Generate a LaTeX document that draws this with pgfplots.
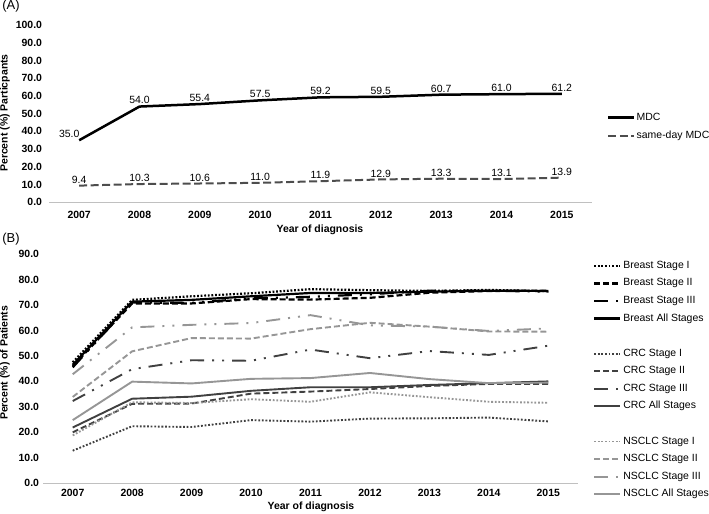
\documentclass[border=0pt]{standalone}
\usepackage{fontspec}
\setmainfont{Liberation Sans}
\usepackage{pgfplots}
\pgfplotsset{compat=1.18}
\usepackage{pgfplotstable}

\definecolor{crc}{HTML}{404040}
\definecolor{nsclc}{HTML}{969696}
\definecolor{sameday}{HTML}{4D4D4D}
\definecolor{axisgray}{HTML}{C0C0C0}

\pgfplotstableread{
year mdc sameday
0 35.0 9.4
1 54.0 10.3
2 55.4 10.6
3 57.5 11.0
4 59.2 11.9
5 59.5 12.9
6 60.7 13.3
7 61.0 13.1
8 61.2 13.9
}\tblA

\pgfplotstableread{
x bI bII bIII bAll cI cII cIII cAll nI nII nIII nAll
0 47.5 46.0 45.5 46.5 12.8 20.0 32.3 21.9 18.8 33.9 42.8 24.8
1 72.0 70.6 71.0 71.3 22.4 31.2 44.8 33.2 31.8 51.8 61.2 39.9
2 73.4 70.6 70.8 72.0 22.1 31.3 48.3 34.0 31.5 57.0 62.2 39.2
3 74.6 72.3 72.6 73.4 24.8 35.2 48.1 36.3 33.0 56.8 62.9 41.0
4 76.2 72.1 73.2 74.7 24.2 36.0 52.5 37.7 32.0 60.5 66.0 41.3
5 75.8 72.8 74.2 74.7 25.4 37.0 49.1 37.7 35.7 63.0 62.0 43.3
6 75.5 74.8 75.6 75.2 25.5 38.2 51.9 38.6 33.8 61.5 61.5 40.9
7 75.9 75.5 75.6 75.6 25.8 39.0 50.4 39.3 32.0 59.6 59.8 39.3
8 75.4 75.6 75.2 75.5 24.3 39.0 54.0 40.0 31.6 59.5 60.8 39.5
}\tblB

\newcommand{\lbl}{\fontsize{10.5}{12}\selectfont}
\newcommand{\blbl}{\fontsize{10.5}{12}\selectfont\bfseries}

\pgfplotsset{
  excel/.style={
    scale only axis, clip=false,
    xmin=-0.5, xmax=8.5,
    xtick={0,1,2,3,4,5,6,7,8},
    xticklabels={2007,2008,2009,2010,2011,2012,2013,2014,2015},
    axis x line*=bottom, axis y line*=left,
    x axis line style={draw=axisgray, line width=0.9bp, -},
    y axis line style={draw=none},
    major tick length=0pt,
    tick label style={font=\blbl},
    yticklabel style={/pgf/number format/.cd, fixed, fixed zerofill, precision=1, assume math mode=true, /tikz/.cd},
    legend cell align=left,
    legend image code/.code={\draw[##1] (0bp,0bp) -- (26bp,0bp);},
  },
  dotS/.style={dash pattern=on 1.8bp off 1.8bp},
  dashS/.style={dash pattern=on 6bp off 3bp},
  ddS/.style={dash pattern=on 14bp off 8bp on 2bp off 8bp on 2bp off 8bp},
}

\begin{document}
\begin{tikzpicture}
\path[use as bounding box] (0bp,0bp) rectangle (709bp,514bp);

% Panel A
\begin{axis}[excel,
  at={(49bp,311.7bp)}, anchor=south west,
  width=543bp, height=177.3bp,
  ymin=0, ymax=100, ytick={0,10,...,100},
  xticklabel style={yshift=-5.5bp},
  yticklabel style={xshift=-3.5bp},
  legend style={at={(1.0276,0.504)}, anchor=north west, draw=none, fill=none,
    inner sep=0pt, row sep=9bp, font=\lbl,
    nodes={inner sep=0pt, text height=7bp, text depth=2bp},
    /tikz/every odd column/.append style={column sep=1bp}},
]
\addplot[black, line width=2.5bp,
  visualization depends on={value \coordindex \as \myci},
  nodes near coords={\pgfmathprintnumber[fixed,fixed zerofill,precision=1,assume math mode=true]{\pgfplotspointmeta}},
  every node near coord/.append style={font=\lbl, black, yshift=-2bp, xshift={ifthenelse(\myci==0,-10,0)}}]
  table[x=year, y=mdc]{\tblA};
\addlegendentry{MDC}
\addplot[sameday, line width=2bp, dash pattern=on 8bp off 3.5bp,
  nodes near coords={\pgfmathprintnumber[fixed,fixed zerofill,precision=1,assume math mode=true]{\pgfplotspointmeta}},
  every node near coord/.append style={font=\lbl, black, yshift=-2bp}]
  table[x=year, y=sameday]{\tblA};
\addlegendentry{same-day MDC}
\end{axis}

% Panel B
\begin{axis}[excel,
  at={(43bp,30.7bp)}, anchor=south west,
  width=535bp, height=229.3bp,
  ymin=0, ymax=90, ytick={0,10,...,90},
  xticklabel style={yshift=-2.5bp},
  yticklabel style={xshift=-0.5bp},
  legend style={at={(1.028,0.9686)}, anchor=north west, draw=none, fill=none,
    inner sep=0pt, row sep=8.56bp, font=\lbl,
    nodes={inner sep=0pt, text height=7bp, text depth=2bp},
    /tikz/every odd column/.append style={column sep=2bp}},
]
\addplot[black, line width=2.2bp, dotS] table[x=x, y=bI]{\tblB};
\addlegendentry{Breast Stage I}
\addplot[black, line width=2.2bp, dashS] table[x=x, y=bII]{\tblB};
\addlegendentry{Breast Stage II}
\addplot[black, line width=2.2bp, ddS] table[x=x, y=bIII]{\tblB};
\addlegendentry{Breast Stage III}
\addplot[black, line width=2.2bp] table[x=x, y=bAll]{\tblB};
\addlegendentry{Breast All Stages}
\addlegendimage{empty legend}
\addlegendentry{}
\addplot[crc, line width=1.9bp, dotS] table[x=x, y=cI]{\tblB};
\addlegendentry{CRC Stage I}
\addplot[crc, line width=1.9bp, dashS] table[x=x, y=cII]{\tblB};
\addlegendentry{CRC Stage II}
\addplot[crc, line width=1.9bp, ddS] table[x=x, y=cIII]{\tblB};
\addlegendentry{CRC Stage III}
\addplot[crc, line width=1.9bp] table[x=x, y=cAll]{\tblB};
\addlegendentry{CRC All Stages}
\addlegendimage{empty legend}
\addlegendentry{}
\addplot[nsclc, line width=1.9bp, dotS] table[x=x, y=nI]{\tblB};
\addlegendentry{NSCLC Stage I}
\addplot[nsclc, line width=1.9bp, dashS] table[x=x, y=nII]{\tblB};
\addlegendentry{NSCLC Stage II}
\addplot[nsclc, line width=1.9bp, ddS] table[x=x, y=nIII]{\tblB};
\addlegendentry{NSCLC Stage III}
\addplot[nsclc, line width=1.9bp] table[x=x, y=nAll]{\tblB};
\addlegendentry{NSCLC All Stages}
\end{axis}

% Titles and labels
\node[font=\fontsize{13}{15}\selectfont] at (11bp,507.5bp) {(A)};
\node[font=\fontsize{13}{15}\selectfont] at (11bp,275bp) {(B)};
\node[font=\blbl, rotate=90] at (5bp,401bp) {Percent (\%) Particpants};
\node[font=\blbl, rotate=90] at (5bp,151bp) {Percent (\%) of Patients};
\node[font=\blbl] at (320bp,284bp) {Year of diagnosis};
\node[font=\blbl] at (311bp,7bp) {Year of diagnosis};
\end{tikzpicture}
\end{document}
